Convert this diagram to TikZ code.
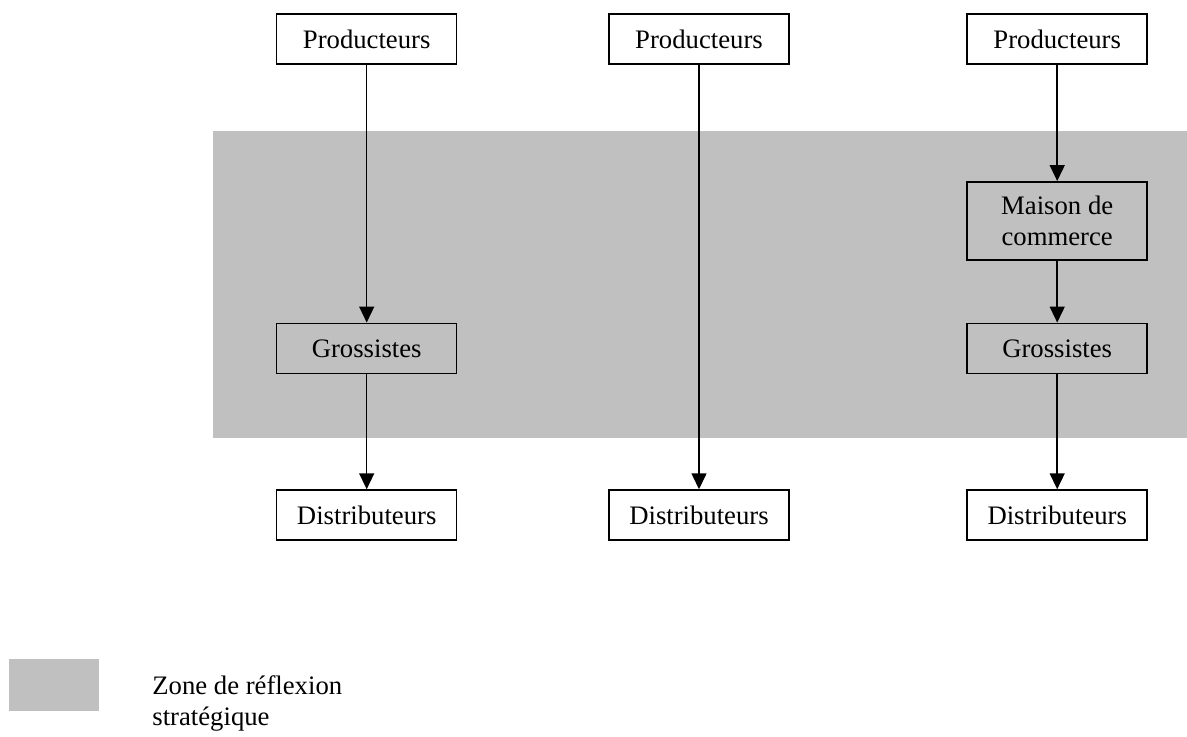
\documentclass[tikz,border=0pt]{standalone}
\usepackage{fontspec}
\setmainfont{Liberation Serif}
\usetikzlibrary{arrows.meta}
\definecolor{zonegray}{RGB}{192,192,192}

\begin{document}
\begin{tikzpicture}[x=0.5pt, y=-0.5pt, >={Triangle[length=8pt, width=7.5pt]},
    box/.style={draw, line width=0.75pt, minimum width=90pt, minimum height=25pt,
        inner sep=2pt, align=center, font=\fontsize{13.35}{15.5}\selectfont},
    flow/.style={->, line width=0.75pt}]
    \useasboundingbox (0,0) rectangle (1187,736);

    % Zone de reflexion
    \fill[zonegray] (213,131) rectangle (1187,438);

    % Column 1
    \node[box] (prodA) at (366.7,39) {Producteurs};
    \node[box] (grosA) at (366.7,348.3) {Grossistes};
    \node[box] (distA) at (366.7,515) {Distributeurs};
    \draw[flow] (prodA) -- (grosA);
    \draw[flow] (grosA) -- (distA);

    % Column 2
    \node[box] (prodB) at (699,39) {Producteurs};
    \node[box] (distB) at (699,515) {Distributeurs};
    \draw[flow] (prodB) -- (distB);

    % Column 3
    \node[box] (prodC) at (1057.2,39) {Producteurs};
    \node[box, minimum height=39pt] (maison) at (1057.2,220.8) {Maison de\\commerce};
    \node[box] (grosC) at (1057.2,348.3) {Grossistes};
    \node[box] (distC) at (1057.2,515) {Distributeurs};
    \draw[flow] (prodC) -- (maison);
    \draw[flow] (maison) -- (grosC);
    \draw[flow] (grosC) -- (distC);

    % Legend
    \fill[zonegray] (9,659) rectangle (99,711);
    \node[anchor=north west, inner sep=0pt, align=left,
        font=\fontsize{13.35}{15.5}\selectfont] (legend) at (152,675)
        {Zone de réflexion\\stratégique};
\end{tikzpicture}
\end{document}
